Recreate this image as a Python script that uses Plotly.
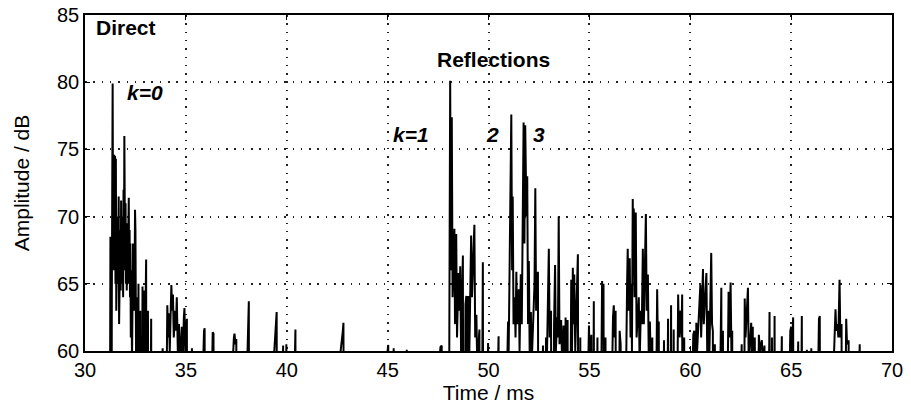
import plotly.graph_objects as go

# Time (ms) and amplitude (dB) of the measured impulse response (values below 60 dB are clipped by the axis)
time_ms = [
    31.20, 31.24, 31.26, 31.29, 31.33, 31.37, 31.39, 31.41, 31.43, 31.45, 31.47, 31.49, 31.51, 31.53, 31.55,
    31.57, 31.59, 31.61, 31.63, 31.65, 31.67, 31.69, 31.71, 31.73, 31.75, 31.77, 31.79, 31.81, 31.83, 31.85,
    31.87, 31.89, 31.91, 31.93, 31.95, 31.97, 31.99, 32.01, 32.03, 32.05, 32.07, 32.09, 32.11, 32.13, 32.15,
    32.17, 32.19, 32.21, 32.23, 32.25, 32.27, 32.30, 32.33, 32.36, 32.38, 32.40, 32.42, 32.45, 32.48, 32.50,
    32.53, 32.56, 32.59,
    32.65, 32.69, 32.74, 32.78, 32.85, 32.89,
    32.95, 32.99, 33.03, 33.06, 33.12, 33.16, 33.28, 33.32, 33.85, 33.88, 34.08, 34.12, 34.16, 34.20, 34.28,
    34.32, 34.36, 34.40, 34.47, 34.50, 34.55, 34.60, 34.66, 34.70, 34.80, 34.84, 34.90, 34.93, 34.97, 35.05,
    35.09, 35.30, 35.33, 35.90, 35.93, 35.97, 36.33, 36.37, 36.42, 37.38, 37.41, 37.46, 37.50, 37.54, 38.08,
    38.12, 38.16, 39.46, 39.50, 39.54, 39.82, 39.86, 39.98, 40.02, 40.43, 40.47, 42.78, 42.81, 42.86, 45.03,
    45.06, 45.30, 45.33, 45.95, 45.98, 47.62, 47.68, 47.72,
    48.02, 48.06, 48.10, 48.14, 48.18, 48.22, 48.27, 48.31, 48.34, 48.40, 48.44, 48.51, 48.55, 48.60, 48.64,
    48.68, 48.73, 48.77, 48.86, 48.90, 48.94, 49.00, 49.04, 49.10, 49.14, 49.18, 49.25, 49.30, 49.34, 49.40,
    49.44, 49.55, 49.59, 49.72, 49.76, 49.98, 50.02, 50.50, 50.54, 50.97, 51.00, 51.13, 51.17, 51.20, 51.24,
    51.30, 51.34, 51.38, 51.42, 51.50, 51.54, 51.60, 51.65, 51.74, 51.78, 51.82, 51.85, 51.88, 51.92, 51.96,
    52.00, 52.04, 52.10, 52.14, 52.28, 52.32, 52.36, 52.45, 52.50, 52.70, 52.74, 52.85, 52.89, 52.99, 53.03,
    53.10, 53.15, 53.25, 53.30, 53.34, 53.40, 53.44, 53.48, 53.52, 53.60, 53.65, 53.72, 53.76, 53.82, 53.86,
    53.92, 53.96, 54.10, 54.14, 54.18, 54.22, 54.25, 54.30, 54.38, 54.43, 54.48, 54.55, 54.60, 54.98, 55.02,
    55.10, 55.14, 55.22, 55.26, 55.40, 55.44, 55.63, 55.67, 55.70, 55.75, 55.80, 55.84, 56.17, 56.21, 56.25,
    56.30, 56.35, 56.50, 56.55, 56.60, 56.87, 56.90, 56.94, 57.00, 57.04, 57.08, 57.11, 57.15, 57.18, 57.20,
    57.24, 57.30, 57.34, 57.40, 57.45, 57.49, 57.55, 57.60, 57.65, 57.70, 57.80, 57.84, 57.90, 57.94, 58.00,
    58.04, 58.12, 58.16, 58.32, 58.36, 58.40, 58.44, 58.48, 58.70, 58.74, 58.90, 58.94, 59.05, 59.09, 59.18,
    59.22, 59.40, 59.44, 59.52, 59.56, 59.60, 59.64, 59.70, 59.74, 60.15, 60.20, 60.24, 60.30, 60.34, 60.45,
    60.50, 60.54, 60.60, 60.63, 60.67, 60.75, 60.80, 60.84, 60.90, 60.94, 61.04, 61.08, 61.12, 61.16, 61.22,
    61.26, 61.54, 61.58, 61.62, 61.66, 61.90, 61.94, 62.00, 62.04, 62.08, 62.12, 62.55, 62.60, 62.70, 62.74,
    62.86, 62.90, 63.02, 63.06, 63.10, 63.14, 63.20, 63.24, 63.40, 63.45, 63.55, 63.60, 63.68, 63.72, 63.93,
    63.97, 64.05, 64.09, 64.18, 64.22, 64.54, 64.58, 64.96, 65.00, 65.04, 65.10, 65.14, 65.35, 65.39, 65.53,
    65.57, 65.78, 65.82, 66.00, 66.04, 66.38, 66.42, 66.46, 67.15, 67.20, 67.24, 67.30, 67.34, 67.40, 67.44,
    67.50, 67.54, 67.70, 67.73, 67.77, 67.85, 67.89, 68.40, 68.44,
]
amplitude_db = [
    30.0, 66.0, 68.5, 30.0, 64.0, 79.9, 70.0, 74.0, 66.0, 74.6, 67.0, 74.5, 65.0, 74.3, 63.0,
    69.0, 64.5, 70.0, 65.0, 70.5, 71.5, 62.0, 68.0, 64.0, 69.0, 64.5, 71.2, 65.0, 70.0, 66.0,
    70.0, 64.0, 72.0, 66.0, 76.0, 72.5, 66.0, 71.0, 65.0, 68.0, 64.5, 69.5, 65.0, 69.0, 66.0,
    71.4, 65.0, 69.0, 64.0, 68.0, 61.0, 66.0, 59.0, 67.0, 68.0, 64.0, 67.0, 63.0, 70.5, 69.0,
    60.0, 64.0, 30.0,
    65.0, 30.0, 63.0, 30.0, 64.8, 30.0,
    64.5, 62.0, 66.8, 30.0, 63.0, 30.0, 62.4, 30.0, 60.2, 30.0, 63.4, 61.0, 62.8, 60.0, 64.9,
    63.0, 64.2, 61.0, 63.0, 61.5, 64.0, 60.0, 62.0, 59.0, 61.8, 59.0, 62.5, 63.2, 60.0, 62.4,
    30.0, 60.2, 30.0, 61.5, 61.7, 30.0, 61.4, 61.3, 30.0, 61.0, 61.3, 60.5, 60.9, 30.0, 62.5,
    63.7, 30.0, 62.0, 62.9, 30.0, 60.4, 30.0, 60.5, 30.0, 61.6, 30.0, 61.5, 62.1, 30.0, 60.45,
    30.0, 60.2, 30.0, 60.1, 30.0, 60.3, 60.4, 30.0,
    30.0, 62.0, 80.1, 66.0, 77.4, 64.0, 68.0, 69.1, 62.0, 68.7, 61.0, 65.8, 63.0, 66.3, 60.0,
    64.0, 67.1, 30.0, 63.5, 64.1, 60.0, 64.1, 59.0, 66.0, 68.6, 64.0, 67.0, 69.4, 61.0, 62.7,
    59.0, 61.6, 30.0, 66.6, 30.0, 60.6, 30.0, 61.1, 30.0, 62.2, 60.0, 77.6, 66.0, 71.5, 62.0,
    64.0, 61.0, 65.9, 62.0, 64.6, 60.0, 65.7, 62.0, 77.0, 68.0, 76.8, 74.0, 70.0, 73.0, 62.0,
    66.7, 60.0, 62.9, 59.0, 65.0, 72.1, 63.0, 65.9, 30.0, 60.4, 30.0, 61.0, 59.0, 67.6, 61.0,
    63.0, 30.0, 62.0, 66.4, 60.0, 62.5, 61.0, 70.0, 60.5, 62.3, 59.0, 61.9, 30.0, 62.5, 60.0,
    62.3, 30.0, 65.3, 60.0, 66.2, 62.0, 65.7, 60.0, 64.0, 67.2, 30.0, 61.0, 30.0, 61.9, 59.0,
    61.2, 30.0, 63.7, 30.0, 61.0, 30.0, 65.2, 62.0, 65.0, 30.0, 61.0, 30.0, 62.5, 63.4, 61.0,
    63.0, 30.0, 61.5, 60.5, 30.0, 65.0, 67.6, 63.0, 66.9, 61.0, 65.0, 60.0, 71.3, 66.0, 70.6,
    64.0, 70.3, 61.0, 63.0, 64.0, 59.0, 63.0, 62.0, 67.6, 62.0, 70.2, 63.0, 65.7, 60.0, 62.2,
    59.0, 61.0, 30.0, 63.0, 64.6, 60.0, 62.2, 30.0, 60.8, 30.0, 62.4, 30.0, 63.4, 30.0, 61.6,
    30.0, 64.2, 61.0, 63.0, 61.0, 64.2, 30.0, 61.0, 30.0, 61.2, 61.5, 30.0, 62.1, 60.0, 64.0,
    64.9, 61.0, 65.7, 66.1, 62.0, 64.0, 65.8, 60.0, 63.0, 59.0, 67.3, 62.0, 61.5, 30.0, 60.5,
    30.0, 64.7, 30.0, 61.5, 30.0, 64.4, 61.0, 65.1, 60.0, 61.5, 30.0, 60.5, 30.0, 63.9, 61.0,
    64.7, 59.0, 62.1, 60.0, 61.8, 30.0, 61.0, 30.0, 61.2, 60.0, 60.8, 59.0, 60.4, 30.0, 62.9,
    30.0, 61.0, 30.0, 62.6, 30.0, 61.1, 30.0, 61.5, 61.8, 60.0, 62.5, 30.0, 60.7, 30.0, 62.6,
    30.0, 60.1, 30.0, 60.2, 30.0, 62.4, 62.6, 30.0, 60.5, 63.1, 61.5, 62.0, 61.0, 65.3, 61.0,
    62.0, 30.0, 62.2, 62.4, 60.5, 60.8, 30.0, 60.5, 30.0,
]

x_ticks = [30, 35, 40, 45, 50, 55, 60, 65, 70]
y_ticks = [60, 65, 70, 75, 80, 85]

# Labels: (text, time, amplitude, bold-italic)
label_text = ["Direct", "k=0", "Reflections", "k=1", "2", "3"]
label_time = [32.03, 32.95, 50.27, 46.16, 50.2, 52.48]
label_amp = [84.1, 79.2, 81.7, 76.1, 76.1, 76.1]
label_italic = [False, True, False, True, True, True]

FONT = "Liberation Sans, Arial, Helvetica, sans-serif"

fig = go.Figure()
fig.add_trace(go.Scatter(
    x=time_ms, y=amplitude_db, mode="lines",
    line=dict(color="black", width=2.0),
    showlegend=False, hoverinfo="skip",
))

for txt, tx, ty, it in zip(label_text, label_time, label_amp, label_italic):
    fig.add_annotation(
        x=tx, y=ty, xref="x", yref="y", showarrow=False,
        text=(f"<b><i>{txt}</i></b>" if it else f"<b>{txt}</b>"),
        font=dict(family=FONT, size=21, color="black"),
    )

axis_common = dict(
    showline=True, linecolor="black", linewidth=1.5, mirror="ticks",
    ticks="inside", ticklen=5, tickcolor="black", tickwidth=1,
    showgrid=True, gridcolor="#222222", gridwidth=1.5, griddash="1.5px,6.8px",
    zeroline=False, tickfont=dict(family=FONT, size=20, color="black"),
)

fig.update_xaxes(
    range=[30, 70], tickvals=x_ticks, ticktext=[str(v) for v in x_ticks],
    title=dict(text="Time / ms", font=dict(family=FONT, size=21, color="black"), standoff=3),
    **axis_common,
)
fig.update_yaxes(
    range=[60, 85], tickvals=y_ticks, ticktext=[str(v) for v in y_ticks],
    title=dict(text="Amplitude / dB", font=dict(family=FONT, size=21, color="black"), standoff=22),
    **axis_common,
)

fig.update_layout(
    width=911, height=413,
    margin=dict(l=85, r=19, t=15, b=62, autoexpand=False),
    paper_bgcolor="white", plot_bgcolor="white",
    font=dict(family=FONT, color="black"),
)

fig.write_html(
    "out.html",
    config={"displayModeBar": False},
    post_script="document.body.style.margin='0';document.body.style.padding='0';",
)
